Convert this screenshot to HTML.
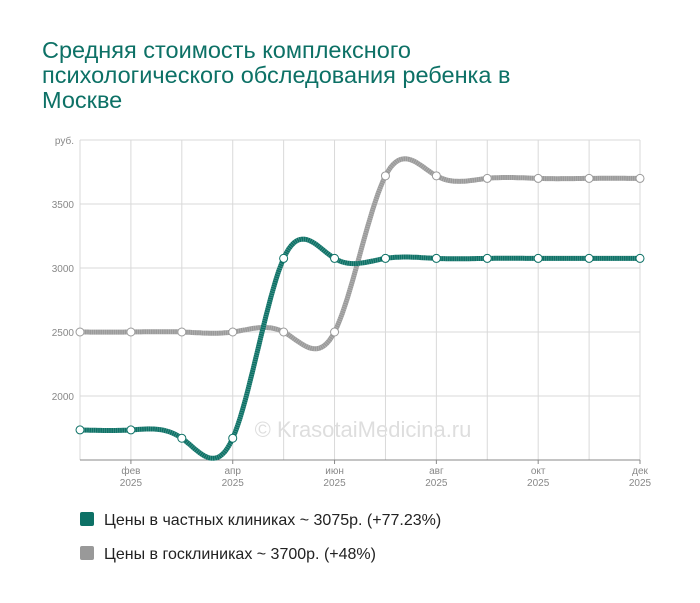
<!DOCTYPE html>
<html><head><meta charset="utf-8"><style>
body{margin:0;background:#fff;width:700px;height:603px;overflow:hidden;font-family:"Liberation Sans",sans-serif}
.t{position:absolute;left:42px;top:38px;font-size:23.5px;line-height:25px;color:#0d7166;width:500px}
</style></head><body>
<div class="t">Средняя стоимость комплексного психологического обследования ребенка в Москве</div>
<svg width="700" height="603" style="position:absolute;left:0;top:0" id="s">
<g stroke="#d9d9d9" stroke-width="1" id="grid"></g>
<text x="363" y="437" font-size="22" fill="#dedede" text-anchor="middle" font-family="Liberation Sans">© KrasotaiMedicina.ru</text>
<g id="lines"></g>
<g font-size="10" fill="#888" font-family="Liberation Sans" id="lab"></g>
<rect x="80" y="512" width="14" height="14" rx="2" fill="#0d7166"/>
<text x="104" y="525" font-size="16" fill="#222">Цены в частных клиниках ~ 3075р. (+77.23%)</text>
<rect x="80" y="546" width="14" height="14" rx="2" fill="#999"/>
<text x="104" y="559" font-size="16" fill="#222">Цены в госклиниках ~ 3700р. (+48%)</text>
</svg>
<script>
var ns="http://www.w3.org/2000/svg";
function el(p,t,a,txt){var e=document.createElementNS(ns,t);for(var k in a)e.setAttribute(k,a[k]);if(txt)e.textContent=txt;p.appendChild(e);return e;}
var g=document.getElementById('grid'),lab=document.getElementById('lab'),L=document.getElementById('lines');
var xs=[];for(var i=0;i<12;i++)xs.push(80+i*(560/11));
xs.forEach(function(x){el(g,'line',{x1:x,y1:140,x2:x,y2:460});});
[140,204,268,332,396].forEach(function(y){el(g,'line',{x1:80,y1:y,x2:640,y2:y});});
el(g,'line',{x1:80,y1:460,x2:640,y2:460,stroke:'#888'});
el(lab,'text',{x:74,y:144,'text-anchor':'end'},'руб.');
[['3500',204],['3000',268],['2500',332],['2000',396]].forEach(function(a){el(lab,'text',{x:74,y:a[1]+4,'text-anchor':'end'},a[0]);});
var m=['','фев','','апр','','июн','','авг','','окт','','дек'];
for(var i=1;i<12;i+=2){el(lab,'text',{x:xs[i],y:474,'text-anchor':'middle'},m[i]);el(lab,'text',{x:xs[i],y:486,'text-anchor':'middle'},'2025');el(g,'line',{x1:xs[i],y1:460,x2:xs[i],y2:464,stroke:'#888'});}
function Y(v){return 460-(v-1500)*0.128;}
function spline(ys){var n=ys.length,M=new Array(n).fill(0);
// natural spline, h=1
var a=[],b=[],c=[],d=[];for(var i=1;i<n-1;i++){a.push(1);b.push(4);c.push(1);d.push(6*(ys[i+1]-2*ys[i]+ys[i-1]));}
var k=b.length;for(var i=1;i<k;i++){var w=a[i]/b[i-1];b[i]-=w*c[i-1];d[i]-=w*d[i-1];}
var x=new Array(k);x[k-1]=d[k-1]/b[k-1];for(var i=k-2;i>=0;i--)x[i]=(d[i]-c[i]*x[i+1])/b[i];
for(var i=0;i<k;i++)M[i+1]=x[i];
var pts=[];for(var i=0;i<n-1;i++){for(var s=0;s<20;s++){var t=s/20;
var y=(1-t)*ys[i]+t*ys[i+1]+((Math.pow(1-t,3)-(1-t))*M[i]+(Math.pow(t,3)-t)*M[i+1])/6;
pts.push([xs[i]+t*(xs[1]-xs[0]),y]);}}pts.push([xs[n-1],ys[n-1]]);
return 'M'+pts.map(function(p){return p[0].toFixed(1)+','+p[1].toFixed(1)}).join('L');}
var gray=[2500,2500,2500,2500,2500,2500,3720,3720,3700,3700,3700,3700];
var teal=[1735,1735,1670,1670,3075,3075,3075,3075,3075,3075,3075,3075];
[[gray,'#9a9a9a'],[teal,'#0d7166']].forEach(function(s){var ys=s[0].map(Y);var d=spline(ys);
el(L,'path',{d:d,fill:'none',stroke:s[1],'stroke-width':5});
el(L,'path',{d:d,fill:'none',stroke:'#fff','stroke-width':5,'stroke-dasharray':'0.6 1.6','stroke-opacity':0.3});
ys.forEach(function(y,i){el(L,'circle',{cx:xs[i],cy:y,r:4,fill:'#fff',stroke:s[1],'stroke-width':1});});});
</script>
</body></html>
